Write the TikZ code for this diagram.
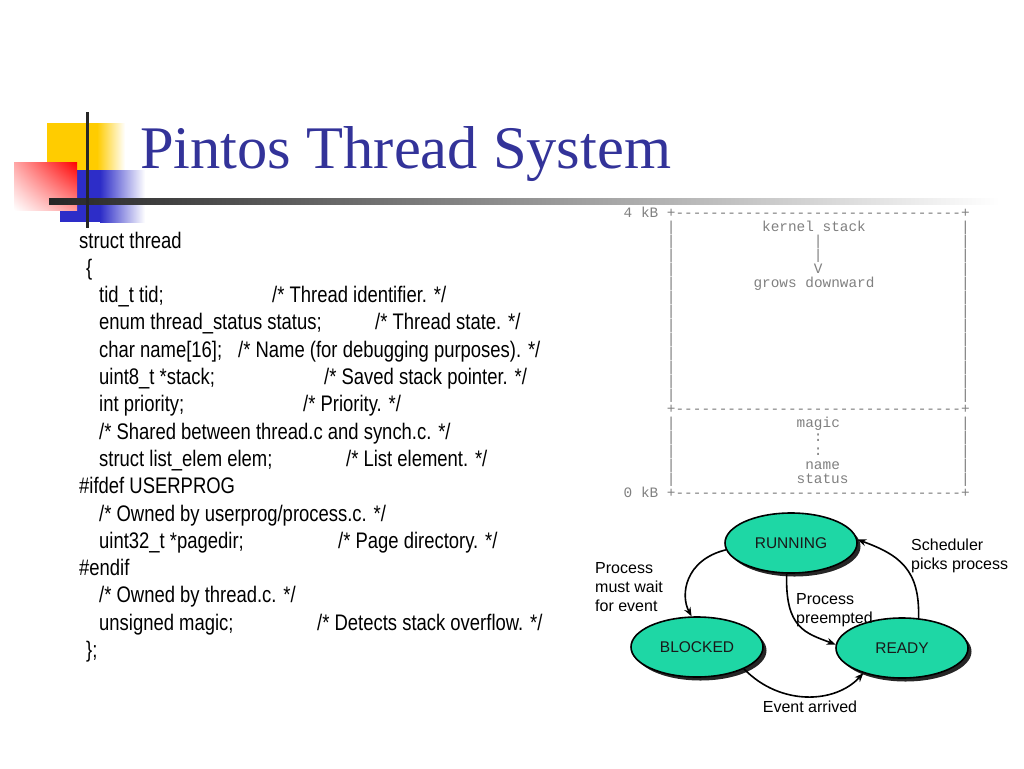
\documentclass[tikz,border=0pt]{standalone}
\usepackage{fontspec}
\setmainfont{Liberation Sans}
\newfontfamily\titlefont{Liberation Serif}
\newfontfamily\codefont{Liberation Sans}[FakeStretch=0.82]
\newfontfamily\stackfont{Liberation Mono}
\usetikzlibrary{shapes.geometric,shadows,shadings,arrows.meta}
\definecolor{titleblue}{RGB}{51,51,153}
\definecolor{stateteal}{RGB}{30,215,165}
\definecolor{logoyellow}{RGB}{255,204,0}
\definecolor{logoblue}{RGB}{45,45,200}
\tikzset{
  state/.style={ellipse, draw=black, line width=1.6pt, fill=stateteal, minimum width=132pt, minimum height=60pt, inner sep=0pt, text=black!90, font=\fontsize{15.5}{18}\selectfont, drop shadow={shadow xshift=3.5pt, shadow yshift=-3.5pt, opacity=1, fill=black!85}},
  lbl/.style={align=left, inner sep=0pt, font=\fontsize{16}{19}\selectfont},
  code/.style={anchor=base west, inner sep=0pt, font=\codefont\fontsize{22.5}{27}\selectfont},
  stk/.style={anchor=base, inner sep=0pt, text=black!50, font=\stackfont\fontsize{14.4}{14}\selectfont},
  trans/.style={-{Stealth[length=9pt,width=7pt]}, line width=1.6pt},
}
\begin{document}
\begin{tikzpicture}[x=1pt,y=-1pt,line join=round]
	\useasboundingbox (0,0) rectangle (1024,768);
	% logo
	\fill[logoyellow] (47,123) rectangle (97,172);
	\shade[left color=logoyellow, right color=white] (97,123) rectangle (125,172);
	\fill[logoblue] (60,170) rectangle (100,222);
	\shade[left color=logoblue, right color=white] (100,170) rectangle (145,222);
	\shade[upper right=red, lower left=white, upper left=red!35, lower right=red!40] (14,162) rectangle (77,210);
	\shade[left color=black!85, right color=white] (49,198) rectangle (1000,204);
	\draw[line width=3pt, black!85] (87.5,112) -- (87.5,228);
	\node[anchor=base west, inner sep=0pt, text=titleblue, font=\titlefont\fontsize{60.5}{72}\selectfont] (title) at (140,168) {Pintos Thread System};
	% struct thread
	\node[code] (c0) at (79,248) {struct thread};
	\node[code] (c1) at (86,275.3) {\{};
	\node[code] (c2) at (99,302.6) {tid\_t tid;};
	\node[code] (c2c) at (272,302.6) {/* Thread identifier. */};
	\node[code] (c3) at (99,329.9) {enum thread\_status status;};
	\node[code] (c3c) at (375,329.9) {/* Thread state. */};
	\node[code] (c4) at (99,357.2) {char name[16];};
	\node[code] (c4c) at (238,357.2) {/* Name (for debugging purposes). */};
	\node[code] (c5) at (99,384.5) {uint8\_t *stack;};
	\node[code] (c5c) at (324,384.5) {/* Saved stack pointer. */};
	\node[code] (c6) at (99,411.8) {int priority;};
	\node[code] (c6c) at (303,411.8) {/* Priority. */};
	\node[code] (c7) at (99,439.1) {/* Shared between thread.c and synch.c. */};
	\node[code] (c8) at (99,466.4) {struct list\_elem elem;};
	\node[code] (c8c) at (346,466.4) {/* List element. */};
	\node[code] (c9) at (79,493.7) {\#ifdef USERPROG};
	\node[code] (c10) at (99,521) {/* Owned by userprog/process.c. */};
	\node[code] (c11) at (99,548.3) {uint32\_t *pagedir;};
	\node[code] (c11c) at (338,548.3) {/* Page directory. */};
	\node[code] (c12) at (79,575.6) {\#endif};
	\node[code] (c13) at (99,602.9) {/* Owned by thread.c. */};
	\node[code] (c14) at (99,630.2) {unsigned magic;};
	\node[code] (c14c) at (317,630.2) {/* Detects stack overflow. */};
	\node[code] (c15) at (86,657.5) {\};};
	% kernel stack page
	\foreach \k in {0,14,20} {
		\foreach \c in {6,...,38}
			\node[stk] (dash-\k-\c) at ({628+8.65*\c},{217.5+13.98*\k}) {-};
		\node[stk] (plusl-\k) at (671.25,{217.5+13.98*\k}) {+};
		\node[stk] (plusr-\k) at (965.35,{217.5+13.98*\k}) {+};
	}
	\foreach \k in {1,...,13,15,16,17,18,19} {
		\node[stk] (barl-\k) at (671.25,{217.5+13.98*\k}) {|};
		\node[stk] (barr-\k) at (965.35,{217.5+13.98*\k}) {|};
	}
	\node[stk] (top) at (641,217.5) {4 kB};
	\node[stk] (bottom) at (641,497.1) {0 kB};
	\node[stk] (kstack) at (814,231.5) {kernel stack};
	\node[stk] (kbar1) at (818.3,245.5) {|};
	\node[stk] (kbar2) at (818.3,259.4) {|};
	\node[stk] (kv) at (818.3,273.4) {V};
	\node[stk] (grows) at (814,287.4) {grows downward};
	\node[stk] (magic) at (818.3,427.2) {magic};
	\node[stk] (dots1) at (818.3,441.2) {:};
	\node[stk] (dots2) at (818.3,455.2) {:};
	\node[stk] (name) at (822.6,469.1) {name};
	\node[stk] (status) at (822.6,483.1) {status};
	% thread states
	\node[state] (run) at (791,543) {RUNNING};
	\node[state] (blk) at (697,647) {BLOCKED};
	\node[state] (rdy) at (902,648) {READY};
	\draw[trans] (run.186) .. controls (685,560) and (680,595) .. (blk.100);
	\draw[trans] (run.262) .. controls (785,628) and (805,633) .. (rdy.177);
	\draw[trans] (rdy.61) .. controls (920,570) and (900,555) .. (run.3);
	\draw[trans] (blk.335) .. controls (780,706) and (835,704) .. (rdy.213);
	\node[lbl, anchor=west] (waitlbl) at (595,587) {Process\\must wait\\for event};
	\node[lbl, anchor=west] (preemptlbl) at (796,610.5) {Process\\preempted};
	\node[lbl, anchor=west] (schedlbl) at (911,555.5) {Scheduler\\picks process};
	\node[lbl] (eventlbl) at (810,707) {Event arrived};
\end{tikzpicture}
\end{document}
